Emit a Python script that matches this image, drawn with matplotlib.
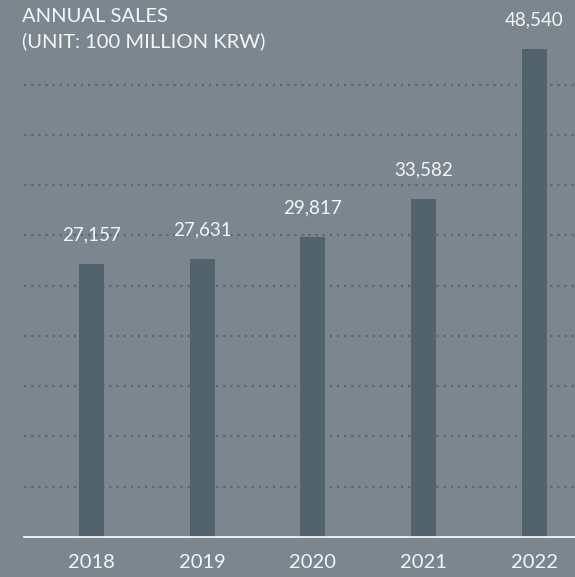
import matplotlib
matplotlib.use("Agg")
import matplotlib.pyplot as plt

years = ["2018", "2019", "2020", "2021", "2022"]
sales = [27157, 27631, 29817, 33582, 48540]
value_labels = ["27,157", "27,631", "29,817", "33,582", "48,540"]
grid_levels = [5000, 10000, 15000, 20000, 25000, 30000, 35000, 40000, 45000]

bg = "#7b868e"
bar_col = "#52636d"
grid_col = "#5b666e"
txt = "#f4f6f7"

plt.rcParams["font.family"] = ["Lato", "DejaVu Sans"]

fig = plt.figure(figsize=(5.75, 5.77), dpi=100, facecolor=bg)
ax = fig.add_axes([24 / 575, 40 / 577, 551 / 575, 537 / 577])
ax.set_facecolor(bg)

x = list(range(len(years)))
ax.bar(x, sales, width=0.225, color=bar_col, zorder=2)

for g in grid_levels:
    ax.axhline(g, color=grid_col, lw=1.6, ls=(0, (1, 2.2)), zorder=1)

for xi, v, lab in zip(x, sales, value_labels):
    ax.annotate(lab, (xi, v), xytext=(0, 21), textcoords="offset points",
                ha="center", va="center", color=txt, fontsize=13.5, annotation_clip=False)

ax.set_xlim(-0.612, 4.37)
ax.set_ylim(0, 53430)

for s in ["top", "left", "right"]:
    ax.spines[s].set_visible(False)
ax.spines["bottom"].set_color("white")
ax.spines["bottom"].set_linewidth(1.2)

ax.set_xticks(x)
ax.set_xticklabels(years, color=txt, fontsize=14.5)
ax.tick_params(axis="x", length=0, pad=12.5)
ax.set_yticks([])

fig.text(22 / 575, 1 - 16 / 577, "ANNUAL SALES", color=txt, fontsize=14.5,
         va="center", ha="left")
fig.text(22 / 575, 1 - 41 / 577, "(UNIT: 100 MILLION KRW)", color=txt, fontsize=14.5,
         va="center", ha="left")

fig.savefig("out.png", dpi=100, facecolor=bg)
